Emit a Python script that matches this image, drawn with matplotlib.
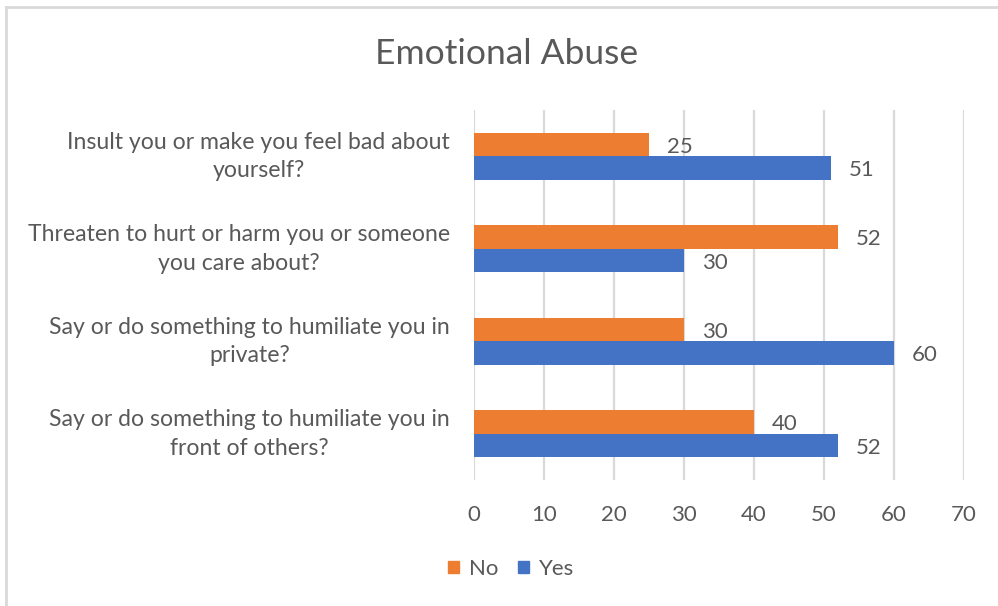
import matplotlib
matplotlib.use("Agg")
import matplotlib.pyplot as plt
import numpy as np
from matplotlib.lines import Line2D
from matplotlib.patches import Patch
from matplotlib.transforms import ScaledTranslation

categories = [
    "Insult you or make you feel bad about\nyourself?",
    "Threaten to hurt or harm you or someone\nyou care about?",
    "Say or do something to humiliate you in\nprivate?",
    "Say or do something to humiliate you in\nfront of others?",
]
no_values = [25, 52, 30, 40]
yes_values = [51, 30, 60, 52]
x_ticks = [0, 10, 20, 30, 40, 50, 60, 70]

ORANGE = "#ED7D31"
BLUE = "#4472C4"
TEXT = "#595959"
GRID = "#D9D9D9"
FONT = ["Lato", "DejaVu Sans"]

plt.rcParams["font.family"] = FONT

fig = plt.figure(figsize=(9.98, 6.06), dpi=100)
ax = fig.add_axes([473.7 / 998, 1 - 480 / 606, (964 - 473.7) / 998, 370 / 606])

pos = np.arange(len(categories))
h = 0.254
ax.barh(pos - h / 2, no_values, height=h, color=ORANGE, label="No", zorder=3)
ax.barh(pos + h / 2, yes_values, height=h, color=BLUE, label="Yes", zorder=3)

for y, v in zip(pos - h / 2, no_values):
    ax.annotate(str(v), (v, y), xytext=(13, -1.5), textcoords="offset points",
                va="center", ha="left", fontsize=16, color=TEXT)
for y, v in zip(pos + h / 2, yes_values):
    ax.annotate(str(v), (v, y), xytext=(13, -1.5), textcoords="offset points",
                va="center", ha="left", fontsize=16, color=TEXT)

ax.set_xlim(0, 70)
ax.set_ylim(len(categories) - 0.5, -0.5)
ax.set_xticks(x_ticks)
ax.set_xticklabels([str(t) for t in x_ticks])
ax.set_yticks(pos)
ax.set_yticklabels(categories, ha="right", multialignment="center", linespacing=1.45,
                   fontsize=16.6)
ax.tick_params(axis="both", length=0, labelcolor=TEXT)
ax.tick_params(axis="x", pad=18, labelsize=16)
ax.tick_params(axis="y", pad=17)
lift = ScaledTranslation(0, 4 / 72, fig.dpi_scale_trans)
for lbl in ax.get_yticklabels():
    lbl.set_transform(lbl.get_transform() + lift)
ax.grid(axis="x", color=GRID, linewidth=1.6, zorder=0)
for s in ax.spines.values():
    s.set_visible(False)

fig.text(507 / 998, 1 - 54 / 606, "Emotional Abuse", ha="center", va="center",
         fontsize=25.5, color=TEXT)

handles = [Patch(color=ORANGE, label="No"), Patch(color=BLUE, label="Yes")]
fig.legend(handles=handles, loc="center", bbox_to_anchor=(511 / 998, 1 - 569 / 606),
           ncol=2, frameon=False, fontsize=16, labelcolor=TEXT,
           handlelength=0.5, handleheight=0.5, handletextpad=0.45, columnspacing=0.9)

# chart area border (top and left edges)
fig.add_artist(Line2D([6 / 998, 6 / 998], [0, 1 - 7 / 606], transform=fig.transFigure,
                      color="#D9D9D9", linewidth=2))
fig.add_artist(Line2D([6 / 998, 1], [1 - 7 / 606, 1 - 7 / 606], transform=fig.transFigure,
                      color="#D9D9D9", linewidth=2))

fig.savefig("out.png", dpi=100)
